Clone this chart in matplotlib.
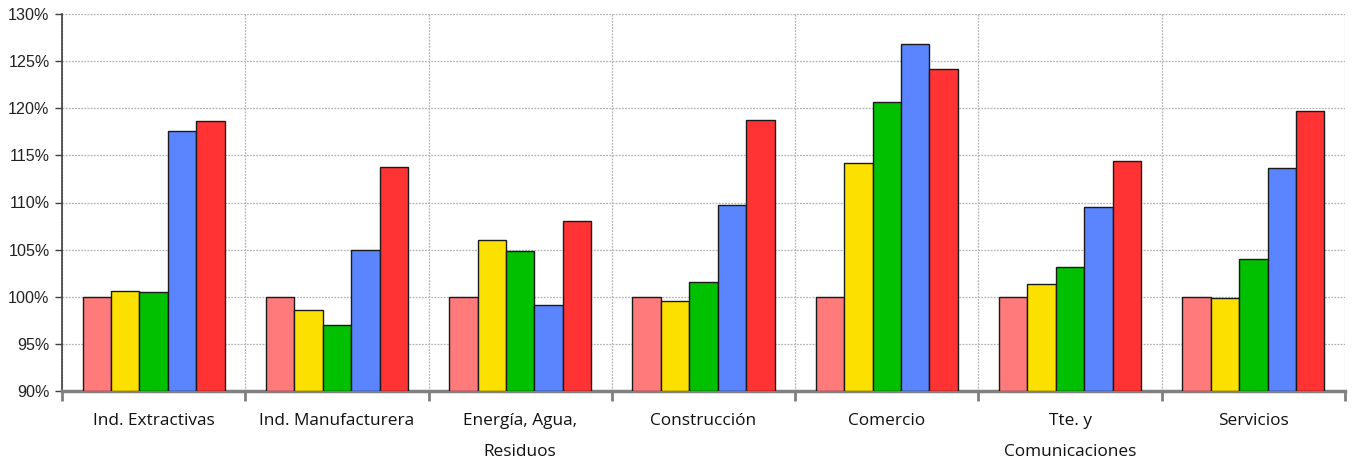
import numpy as np
import matplotlib.pyplot as plt
from matplotlib.ticker import FixedLocator, FuncFormatter

categories = ["Ind. Extractivas", "Ind. Manufacturera", "Energía, Agua,\nResiduos",
              "Construcción", "Comercio", "Tte. y\nComunicaciones", "Servicios"]

serie_1 = [100.0, 100.0, 100.0, 100.0, 100.0, 100.0, 100.0]
serie_2 = [100.6, 98.6, 106.0, 99.6, 114.2, 101.3, 99.9]
serie_3 = [100.5, 97.0, 104.9, 101.6, 120.7, 103.2, 104.0]
serie_4 = [117.6, 105.0, 99.1, 109.7, 126.8, 109.5, 113.7]
serie_5 = [118.7, 113.8, 108.0, 118.8, 124.2, 114.4, 119.7]

series = [serie_1, serie_2, serie_3, serie_4, serie_5]
colors = ["#FF7B7B", "#FCE000", "#00C000", "#5B84FF", "#FF3333"]

fig = plt.figure(figsize=(13.52, 4.59), dpi=100)
ax = fig.add_axes([62 / 1352, 1 - 391 / 459, (1345 - 62) / 1352, (391 - 14) / 459])

n = len(categories)
x = np.arange(n)
width = 0.155
for i, (vals, col) in enumerate(zip(series, colors)):
    offs = (i - 2) * width
    ax.bar(x + offs, np.array(vals) - 90, width=width, bottom=90, color=col,
           edgecolor="#1a1a1a", linewidth=1.0, zorder=3)

ax.set_xlim(-0.5, n - 0.5)
ax.set_ylim(90, 130)
ax.set_yticks(np.arange(90, 131, 5))
ax.yaxis.set_major_formatter(FuncFormatter(lambda v, p: f"{v:.0f}%"))

# category boundaries as major ticks, labels at centres as minor ticks
ax.xaxis.set_major_locator(FixedLocator(np.arange(-0.5, n, 1.0)))
ax.xaxis.set_minor_locator(FixedLocator(x))
ax.set_xticklabels([""] * (n + 1))
ax.set_xticklabels(categories, minor=True, fontsize=12.4, family="Open Sans",
                   linespacing=2.2, va="top", color="#111111")
ax.tick_params(axis="x", which="major", length=7, width=2, color="#808080", direction="out")
ax.tick_params(axis="x", which="minor", length=0, pad=16)
ax.tick_params(axis="y", length=5, width=1, color="#404040", labelsize=11.6, pad=4,
               labelcolor="#222222")
for lab in ax.get_yticklabels():
    lab.set_family("Liberation Sans")

ax.grid(True, which="major", color="#b4b4b4", linestyle=(0, (1.5, 1)), linewidth=0.9, zorder=0)

ax.spines["top"].set_visible(False)
ax.spines["right"].set_visible(False)
ax.spines["left"].set_color("#404040")
ax.spines["left"].set_linewidth(1.2)
ax.spines["bottom"].set_color("#808080")
ax.spines["bottom"].set_linewidth(2.5)
ax.set_axisbelow(True)

fig.savefig("out.png", dpi=100)
